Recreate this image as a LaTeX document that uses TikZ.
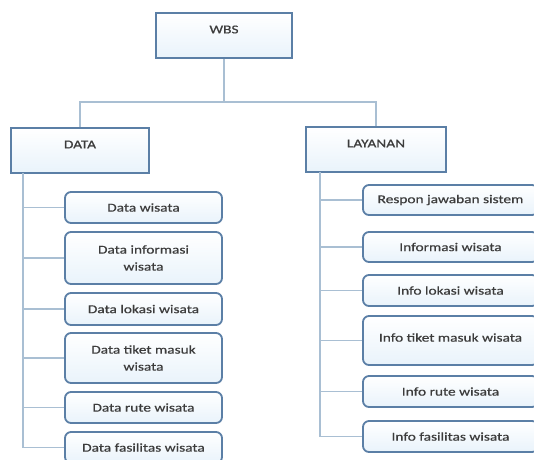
\documentclass[tikz,border=0pt]{standalone}
\usepackage{fontspec}
\setmainfont[FakeStretch=1.28,FakeBold=0.6]{Carlito}
\definecolor{boxline}{HTML}{5B7FA6}
\definecolor{boxfill}{HTML}{E9F3FB}
\definecolor{conn}{HTML}{A9BFD3}
\definecolor{txt}{HTML}{3C3C3C}
\newcommand\upshift[2]{\raisebox{#1}[\height][\depth]{#2}}
\begin{document}
\begin{tikzpicture}[x=1pt,y=-1pt,
  font=\fontsize{12}{17}\selectfont,
  every node/.style={text=txt, align=center, inner sep=0pt},
  topbox/.style={draw=boxline, line width=1.8pt, top color=white, bottom color=boxfill, minimum width=#1, minimum height=45pt},
  leafbox/.style={draw=boxline, line width=1.8pt, rounded corners=6pt, top color=white, bottom color=boxfill, minimum width=#1},
  link/.style={draw=conn, line width=1.2pt}]
\useasboundingbox (0,0) rectangle (534,459);
\clip (0,0) rectangle (534,459);
\fill[white] (0,0) rectangle (534,459);
% top level
\node[topbox=136pt] (wbs) at (224,35.5) {\upshift{6pt}{WBS}};
\node[topbox=138pt] (data) at (80,150.5) {\upshift{6pt}{DATA}};
\node[topbox=140pt] (lay) at (376,149.5) {\upshift{6pt}{LAYANAN}};
% left children
\node[leafbox=157pt, minimum height=31pt] (d1) at (143.5,207.5) {Data wisata};
\node[leafbox=157pt, minimum height=52pt] (d2) at (143.5,258) {Data informasi\\wisata};
\node[leafbox=157pt, minimum height=32pt] (d3) at (143.5,309) {Data lokasi wisata};
\node[leafbox=157pt, minimum height=50pt] (d4) at (143.5,358) {Data tiket masuk\\wisata};
\node[leafbox=157pt, minimum height=31pt] (d5) at (143.5,407.5) {Data rute wisata};
\node[leafbox=157pt, minimum height=31pt] (d6) at (143.5,447.5) {Data fasilitas wisata};
% right children
\node[leafbox=175pt, minimum height=30pt] (l1) at (450.5,200) {Respon jawaban sistem};
\node[leafbox=175pt, minimum height=30pt] (l2) at (450.5,247) {Informasi wisata};
\node[leafbox=175pt, minimum height=31pt] (l3) at (450.5,290.5) {Info lokasi wisata};
\node[leafbox=175pt, minimum height=49pt] (l4) at (450.5,340.5) {\upshift{3pt}{Info tiket masuk wisata}};
\node[leafbox=175pt, minimum height=31pt] (l5) at (450.5,391.5) {Info rute wisata};
\node[leafbox=175pt, minimum height=31pt] (l6) at (450.5,436.5) {Info fasilitas wisata};
% connectors top
\coordinate (bus) at (224,102);
\draw[link] (wbs.south) -- (bus);
\draw[link] (data.north) |- (bus) -| (lay.north);
% left trunk
\coordinate (dt) at (23,173);
\draw[link] (dt) |- (d6.west);
\foreach \n in {d1,d2,d3,d4,d5} \draw[link] (dt |- \n.west) -- (\n.west);
% right trunk
\coordinate (lt) at (320,172);
\draw[link] (lt) |- (l6.west);
\foreach \n in {l1,l2,l3,l4,l5} \draw[link] (lt |- \n.west) -- (\n.west);
\end{tikzpicture}
\end{document}
